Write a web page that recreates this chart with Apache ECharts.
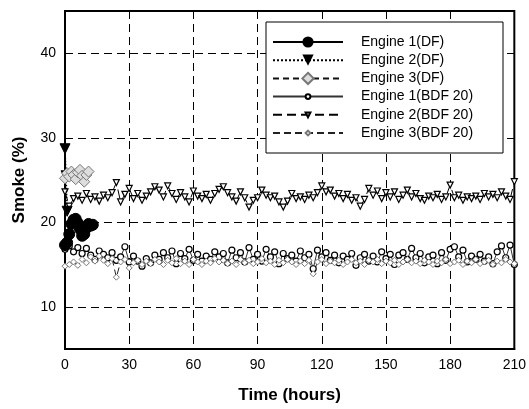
<!DOCTYPE html>
<html>
<head>
<meta charset="utf-8">
<script src="https://cdn.jsdelivr.net/npm/echarts@6/dist/echarts.min.js"></script>
<style>html,body{margin:0;padding:0;background:#fff}#c{width:529px;height:409px}</style>
</head>
<body>
<div id="c"></div>
<script>
// ---- data ----
const seriesNames = ["Engine 1(DF)","Engine 2(DF)","Engine 3(DF)","Engine 1(BDF 20)","Engine 2(BDF 20)","Engine 3(BDF 20)"];
const xTicks = [0,30,60,90,120,150,180,210];
const yTicks = [10,20,30,40];

const df1Hours = [0,1,2,3,4,5,6,7,8,9,10,11,12,13];
const df1Smoke = [17.3,17.6,18.6,19.8,20.3,20.4,19.9,19.2,18.4,18.6,19.3,19.8,19.6,19.7];
const df2Hours = [0,0.5,1];
const df2Smoke = [28.7,25.5,21.3];
const df3Hours = [0,1,2,3,4,5,6,7,8,9,10,11];
const df3Smoke = [25.2,25.8,25.4,26.0,25.6,25.1,25.9,26.2,25.5,24.8,25.6,26.0];

const bdfHours = [0,2,4,6,8,10,12,14,16,18,20,22,24,26,28,30,32,34,36,38,40,42,44,46,48,50,52,54,56,58,60,62,64,66,68,70,72,74,76,78,80,82,84,86,88,90,92,94,96,98,100,102,104,106,108,110,112,114,116,118,120,122,124,126,128,130,132,134,136,138,140,142,144,146,148,150,152,154,156,158,160,162,164,166,168,170,172,174,176,178,180,182,184,186,188,190,192,194,196,198,200,202,204,206,208,210];
const bdf1Smoke = [16.8,17.2,16.5,17.0,16.3,16.9,16.1,15.6,16.6,16.2,15.8,16.4,15.5,15.9,17.1,15.3,16.0,15.4,14.8,15.7,15.2,16.1,15.6,16.4,15.8,16.6,15.1,16.3,15.7,16.8,15.5,16.2,15.4,16.0,15.6,16.5,15.9,16.3,15.2,16.7,15.8,16.4,15.3,17.0,15.6,16.2,15.4,16.8,15.9,16.5,15.1,16.3,15.7,16.1,15.4,16.6,15.8,16.2,14.5,16.7,15.9,16.4,15.5,16.1,15.2,16.0,15.6,16.3,14.9,15.8,16.2,15.4,16.0,15.3,16.5,15.7,16.2,15.0,16.1,16.4,15.6,16.9,15.8,16.3,15.2,15.9,16.1,15.1,16.4,15.5,16.8,17.1,15.9,16.7,15.3,16.0,15.6,16.2,15.4,15.9,15.1,16.5,17.2,15.8,17.3,15.0];
const bdf2Smoke = [23.6,21.9,22.8,23.1,22.6,23.4,22.7,23.0,22.5,23.2,22.9,23.5,24.7,22.4,23.3,24.0,22.8,23.4,22.6,23.1,23.6,24.2,23.8,23.0,24.3,23.4,22.7,23.5,23.0,22.4,23.7,23.1,22.8,23.3,22.6,23.4,23.9,24.2,23.5,23.0,22.5,23.6,22.9,21.8,22.6,22.9,23.8,23.2,22.9,23.1,22.4,21.8,22.5,23.4,22.8,23.0,22.7,23.2,22.9,23.5,24.3,23.6,23.8,23.1,23.4,22.8,23.3,22.6,22.9,21.9,22.7,24.0,23.2,23.7,22.8,23.5,23.0,23.6,22.7,23.2,23.8,23.0,23.4,22.8,22.6,23.1,22.9,23.3,22.7,23.0,24.4,22.9,23.2,22.6,23.0,22.8,23.1,22.7,23.4,23.0,23.3,22.9,23.6,23.1,22.7,24.8];
const bdf3Smoke = [14.8,15.0,15.3,14.9,15.6,15.2,15.9,15.4,16.0,15.5,15.1,15.7,13.5,15.3,15.6,14.6,15.2,15.5,15.0,15.4,15.1,15.6,15.3,15.0,15.5,15.2,15.7,15.1,15.4,15.0,15.6,15.3,15.0,15.4,15.2,15.7,15.3,15.5,15.1,15.4,15.0,15.6,15.2,15.5,15.1,15.3,15.7,15.2,15.4,15.0,15.5,15.2,15.6,15.3,15.0,15.4,15.1,15.5,13.9,15.3,15.6,15.1,15.4,15.2,15.5,15.0,15.3,15.6,15.2,15.4,15.0,15.5,15.3,15.6,15.1,15.4,15.2,15.5,15.0,15.3,15.6,15.2,15.4,15.1,15.5,15.3,15.0,15.4,15.2,15.6,15.1,15.3,15.5,15.0,15.4,15.2,15.6,15.1,15.3,15.5,15.0,15.4,15.2,15.6,15.3,15.1];

function pairs(xs, ys){ const n=Math.min(xs.length, ys.length); const out=[]; for(let i=0;i<n;i++) out.push([xs[i], ys[i]]); return out; }

const FONT = "Liberation Sans, Arial, sans-serif";
const legendText = {fontFamily:FONT, fontSize:14, lineHeight:14, color:'#000', padding:[0,0,0,13]};
const chart = echarts.init(document.getElementById('c'), null, {renderer:'canvas'});
chart.setOption({
  animation:false,
  backgroundColor:'#fff',
  grid:{left:65, right:14, top:11, bottom:59, show:true, borderColor:'#000', borderWidth:2, backgroundColor:'transparent'},
  xAxis:{
    type:'value', min:0, max:210, interval:30,
    name:'Time (hours)', nameLocation:'middle', nameGap:38,
    nameTextStyle:{fontFamily:FONT, fontSize:17, fontWeight:'bold', color:'#000'},
    axisLine:{show:true, lineStyle:{color:'#000', width:2}},
    axisTick:{show:false},
    axisLabel:{fontFamily:FONT, fontSize:14, color:'#000', margin:9,
      formatter:v=> xTicks.indexOf(v)>=0 ? String(v) : ''},
    splitLine:{show:true, lineStyle:{color:'#000', width:1, type:[8,5]}}
  },
  yAxis:{
    type:'value', min:5, max:45,
    name:'Smoke (%)', nameLocation:'middle', nameGap:37,
    nameTextStyle:{fontFamily:FONT, fontSize:17, fontWeight:'bold', color:'#000'},
    axisLine:{show:true, lineStyle:{color:'#000', width:2}},
    axisTick:{show:false},
    axisLabel:{fontFamily:FONT, fontSize:14, color:'#000', margin:9,
      formatter:v=> yTicks.indexOf(v)>=0 ? String(v) : ''},
    splitLine:{show:true, lineStyle:{color:'#000', width:1, type:[8,5]}}
  },
  graphic:[{type:'rect', z:10, shape:{x:266, y:22, width:237, height:131},
    style:{fill:'#fff', stroke:'#000', lineWidth:1}}],
  legend:[
    {orient:'vertical', left:272, top:35, padding:0, itemWidth:70, itemHeight:14, itemGap:4.2, z:20,
      textStyle:legendText, data:seriesNames.slice(0,3)},
    {orient:'vertical', left:272, top:89.6, padding:0, itemWidth:70, itemHeight:6, itemGap:4.2, z:20,
      textStyle:legendText, data:seriesNames.slice(3)}
  ],
  series:[
    {name:seriesNames[3], type:'line', data:pairs(bdfHours,bdf1Smoke), symbol:'circle', symbolSize:6, showAllSymbol:true,
      itemStyle:{color:'#fff', borderColor:'#000', borderWidth:1.2}, lineStyle:{color:'#333', width:1, type:'solid'}, z:2},
    {name:seriesNames[4], type:'line', data:pairs(bdfHours,bdf2Smoke), symbol:'triangle', symbolRotate:180, symbolSize:6, showAllSymbol:true,
      itemStyle:{color:'#fff', borderColor:'#000', borderWidth:1.2}, lineStyle:{color:'#000', width:1, type:[9,5]}, z:2},
    {name:seriesNames[5], type:'line', data:pairs(bdfHours,bdf3Smoke), symbol:'diamond', symbolSize:6, showAllSymbol:true,
      itemStyle:{color:'#fff', borderColor:'#777', borderWidth:1}, lineStyle:{color:'#222', width:1, type:[7,4]}, z:2},
    {name:seriesNames[0], type:'line', data:pairs(df1Hours,df1Smoke), symbol:'circle', symbolSize:11, showAllSymbol:true,
      itemStyle:{color:'#000', borderColor:'#000'}, lineStyle:{color:'#000', width:1, type:'solid'}, z:4},
    {name:seriesNames[1], type:'line', data:pairs(df2Hours,df2Smoke), symbol:'triangle', symbolRotate:180, symbolSize:10, showAllSymbol:true,
      itemStyle:{color:'#000', borderColor:'#000'}, lineStyle:{color:'#000', width:1.5, type:'dotted'}, z:4},
    {name:seriesNames[2], type:'line', data:pairs(df3Hours,df3Smoke), symbol:'diamond', symbolSize:11, showAllSymbol:true,
      itemStyle:{color:'#ddd', borderColor:'#777', borderWidth:1}, lineStyle:{color:'#111', width:1, type:[6,4]}, z:4}
  ]
});
</script>
</body>
</html>
